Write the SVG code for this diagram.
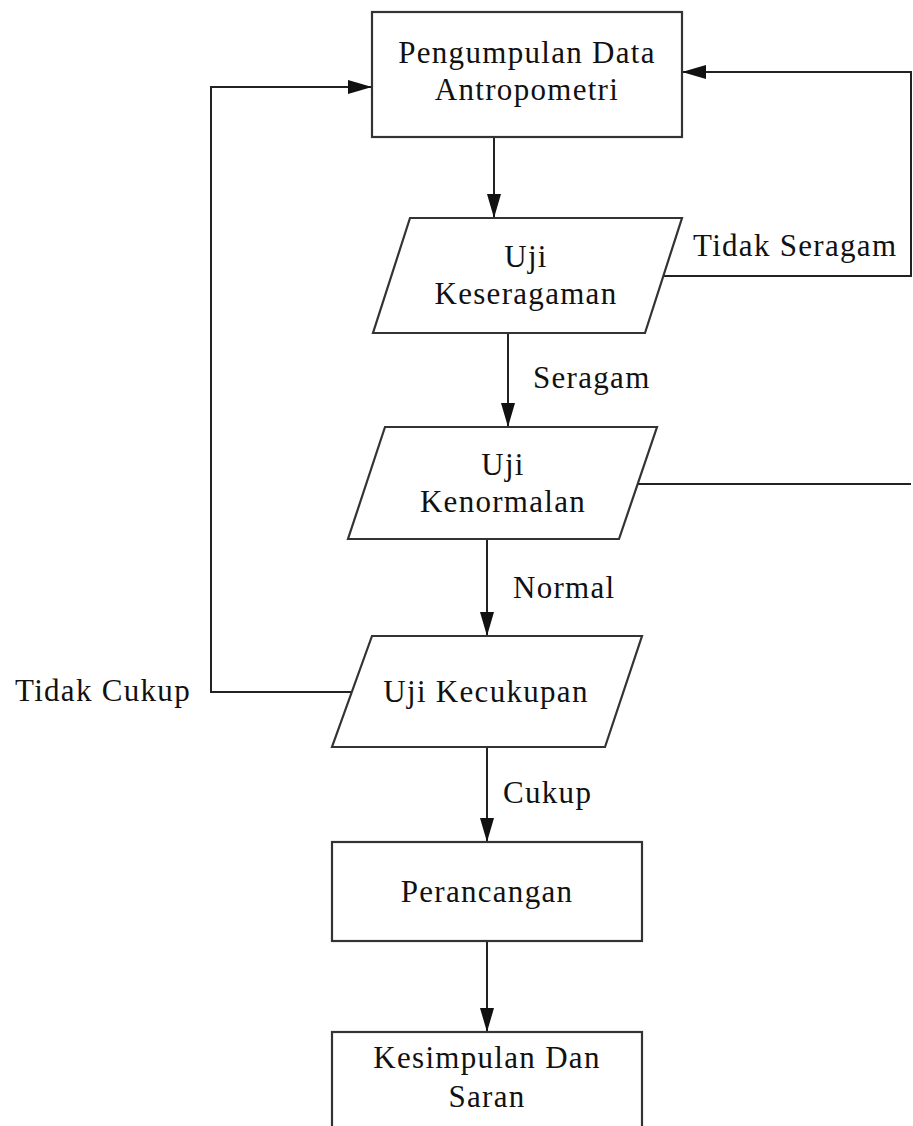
<svg xmlns="http://www.w3.org/2000/svg" width="913" height="1126" viewBox="0 0 913 1126">
<style>
.shape{fill:#ffffff;stroke:#333333;stroke-width:2.2}
.conn{fill:none;stroke:#222222;stroke-width:2}
.t{font-family:"Liberation Serif","Times New Roman",serif;font-size:31px;fill:#111111;letter-spacing:1.3px}
.c{text-anchor:middle}
</style>
<defs>
<marker id="arr" markerUnits="userSpaceOnUse" markerWidth="24" markerHeight="14" refX="24" refY="7" orient="auto">
<path d="M0,0 L24,7 L0,14 z" fill="#111111"/>
</marker>
</defs>
<rect width="913" height="1126" fill="#ffffff"/>
<g id="connectors">
<path class="conn" d="M494,137 V218" marker-end="url(#arr)"/>
<path class="conn" d="M663,276 H911 V72 H682" marker-end="url(#arr)"/>
<path class="conn" d="M508,333 V427" marker-end="url(#arr)"/>
<path class="conn" d="M638,484 H911"/>
<path class="conn" d="M487,539 V636" marker-end="url(#arr)"/>
<path class="conn" d="M352,692 H211 V87 H372" marker-end="url(#arr)"/>
<path class="conn" d="M487,747 V842" marker-end="url(#arr)"/>
<path class="conn" d="M487,941 V1032" marker-end="url(#arr)"/>
</g>
<g id="labels">
<text class="t" x="693" y="256">Tidak Seragam</text>
<text class="t" x="533" y="388">Seragam</text>
<text class="t" x="513" y="598">Normal</text>
<text class="t" x="503" y="803">Cukup</text>
<text class="t" x="15" y="701">Tidak Cukup</text>
</g>
<g id="node-pengumpulan">
<rect class="shape" x="372" y="12" width="310" height="125"/>
<text class="t c" x="527" y="63">Pengumpulan Data</text>
<text class="t c" x="527" y="100">Antropometri</text>
</g>
<g id="node-keseragaman">
<polygon class="shape" points="410,218 682,218 645,333 373,333"/>
<text class="t c" x="526" y="267">Uji</text>
<text class="t c" x="526" y="304">Keseragaman</text>
</g>
<g id="node-kenormalan">
<polygon class="shape" points="385,427 657,427 619,539 348,539"/>
<text class="t c" x="503" y="475">Uji</text>
<text class="t c" x="503" y="512">Kenormalan</text>
</g>
<g id="node-kecukupan">
<polygon class="shape" points="372,636 642,636 605,747 332,747"/>
<text class="t c" x="486" y="702">Uji Kecukupan</text>
</g>
<g id="node-perancangan">
<rect class="shape" x="332" y="842" width="310" height="99"/>
<text class="t c" x="487" y="902">Perancangan</text>
</g>
<g id="node-kesimpulan">
<rect class="shape" x="332" y="1032" width="310" height="110"/>
<text class="t c" x="487" y="1068">Kesimpulan Dan</text>
<text class="t c" x="487" y="1107">Saran</text>
</g>
</svg>
